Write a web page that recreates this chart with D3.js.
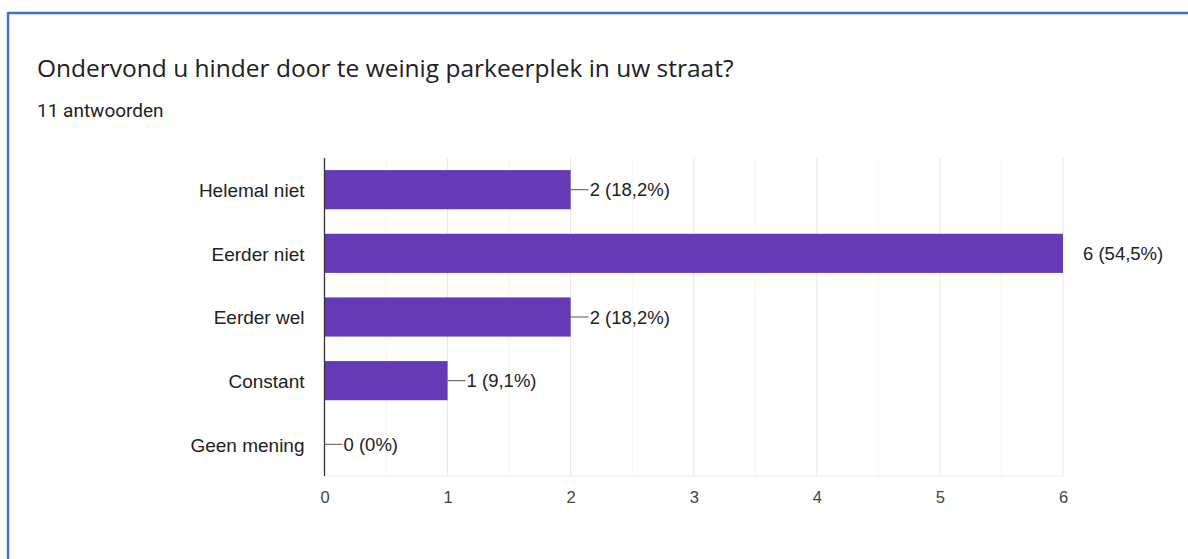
<!DOCTYPE html>
<html>
<head>
<meta charset="utf-8">
<script src="https://cdn.jsdelivr.net/npm/d3@7"></script>
<style>
  html, body { margin: 0; padding: 0; background: #fff; }
  svg { display: block; }
</style>
</head>
<body>
<svg id="chart" width="1188" height="559"></svg>
<script>
const categories = ["Helemal niet", "Eerder niet", "Eerder wel", "Constant", "Geen mening"];
const counts = [2, 6, 2, 1, 0];
const percentLabels = ["18,2%", "54,5%", "18,2%", "9,1%", "0%"];
const xTicks = [0, 1, 2, 3, 4, 5, 6];
const minorTicks = [0.5, 1.5, 2.5, 3.5, 4.5, 5.5];
const title = "Ondervond u hinder door te weinig parkeerplek in uw straat?";
const subtitle = "11 antwoorden";

const svg = d3.select("#chart");
const W = 1188, H = 559;

// card border (blue, top and left)
svg.append("line").attr("x1", 8).attr("x2", W).attr("y1", 13).attr("y2", 13)
  .attr("stroke", "#4472c4").attr("stroke-width", 2.5);
svg.append("line").attr("x1", 8).attr("x2", 8).attr("y1", 12).attr("y2", H)
  .attr("stroke", "#4472c4").attr("stroke-width", 2.5);

svg.append("text").attr("x", 37).attr("y", 77)
  .attr("font-family", "'Open Sans', Roboto, sans-serif").attr("font-size", 24.5)
  .attr("fill", "#202124").text(title);
svg.append("text").attr("x", 37).attr("y", 117)
  .attr("font-family", "Roboto, Arial, sans-serif").attr("font-size", 19)
  .attr("fill", "#202124").text(subtitle);

const x = d3.scaleLinear().domain([0, 6]).range([324.5, 1063]);
const y = d3.scaleBand().domain(categories).range([158, 476]).paddingInner(0.385).paddingOuter(0.19);

const font = "'Liberation Sans', Arial, sans-serif";

// minor gridlines
svg.append("g").selectAll("line").data(minorTicks).join("line")
  .attr("x1", d => x(d)).attr("x2", d => x(d)).attr("y1", 158).attr("y2", 476)
  .attr("stroke", "#f4f4f4").attr("stroke-width", 1);
// major gridlines
svg.append("g").selectAll("line").data(xTicks.slice(1)).join("line")
  .attr("x1", d => x(d)).attr("x2", d => x(d)).attr("y1", 158).attr("y2", 476)
  .attr("stroke", "#e6e6e6").attr("stroke-width", 1);
// baseline
svg.append("line").attr("x1", x(0)).attr("x2", x(6)).attr("y1", 476).attr("y2", 476)
  .attr("stroke", "#eeeeee");

// x axis labels
const xAxis = d3.axisBottom(x).tickValues(xTicks).tickSize(0).tickPadding(0).tickFormat(d3.format("d"));
const gx = svg.append("g").attr("transform", "translate(0,476)").call(xAxis);
gx.select(".domain").remove();
gx.selectAll("text").attr("font-family", font).attr("font-size", 16.5).attr("fill", "#444")
  .attr("dy", null).attr("y", 27);

// bars
svg.append("g").selectAll("rect").data(categories).join("rect")
  .attr("x", x(0)).attr("y", d => y(d))
  .attr("width", (d, i) => x(counts[i]) - x(0))
  .attr("height", y.bandwidth())
  .attr("fill", "#6639b6");

// y axis labels
const yAxis = d3.axisLeft(y).tickSize(0).tickPadding(20);
const gy = svg.append("g").attr("transform", `translate(${x(0)},0)`).call(yAxis);
gy.select(".domain").remove();
gy.selectAll("text").attr("font-family", font).attr("font-size", 19).attr("fill", "#222")
  .attr("dy", "0.38em");

// axis line at zero
svg.append("line").attr("x1", x(0)).attr("x2", x(0)).attr("y1", 158).attr("y2", 476)
  .attr("stroke", "#333").attr("stroke-width", 1.3);

// value labels with leader lines
const labels = svg.append("g");
categories.forEach((c, i) => {
  const cy = y(c) + y.bandwidth() / 2;
  const xe = x(counts[i]);
  const isMax = counts[i] === d3.max(counts);
  if (!isMax) {
    labels.append("line").attr("x1", xe).attr("x2", xe + 18).attr("y1", cy).attr("y2", cy)
      .attr("stroke", "#555").attr("stroke-width", 1);
  }
  labels.append("text").attr("x", isMax ? xe + 20 : xe + 19).attr("y", cy).attr("dy", "0.36em")
    .attr("font-family", font).attr("font-size", 18.5).attr("fill", "#222")
    .text(`${counts[i]} (${percentLabels[i]})`);
});
</script>
</body>
</html>
